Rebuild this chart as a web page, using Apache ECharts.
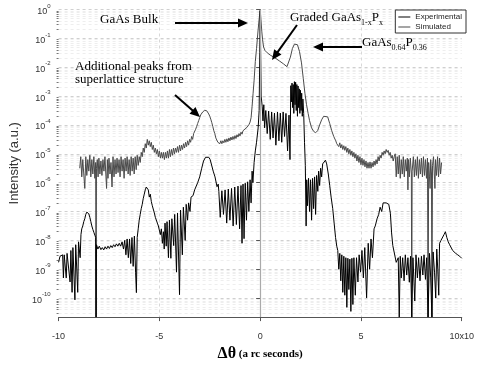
<!DOCTYPE html>
<html>
<head>
<meta charset="utf-8">
<script src="https://cdn.jsdelivr.net/npm/echarts@6/dist/echarts.min.js"></script>
<style>
html, body { margin: 0; padding: 0; background: #fff; }
#main { width: 477px; height: 367px; }
</style>
</head>
<body>
<div id="main"></div>
<script>
// x: delta theta (x10^3 arc seconds), second value: log10 of intensity
var simulated = [
    [-8.95,-5.5],[-8.9,-5.1],[-8.85,-5.8],[-8.8,-5.2],[-8.75,-5.7],[-8.7,-6.2],[-8.65,-5.1],[-8.6,-5.75],[-8.55,-5.2],[-8.5,-5.6],
    [-8.45,-5.05],[-8.4,-5.8],[-8.35,-5.2],[-8.3,-5.7],[-8.25,-5.1],[-8.2,-5.85],[-8.16,-5.3],[-8.14,-10.66],[-8.12,-5.5],[-8.08,-5.2],
    [-8.04,-5.8],[-8.0,-5.15],[-7.95,-5.7],[-7.9,-5.25],[-7.85,-5.75],[-7.8,-5.2],[-7.75,-5.6],[-7.7,-5.1],[-7.65,-5.8],[-7.62,-6.2],
    [-7.58,-5.2],[-7.55,-5.85],[-7.5,-5.15],[-7.45,-5.7],[-7.4,-5.3],[-7.35,-6.15],[-7.3,-5.1],[-7.25,-5.8],[-7.2,-5.2],[-7.15,-5.7],
    [-7.1,-5.15],[-7.05,-5.65],[-7.0,-5.2],[-6.95,-5.8],[-6.9,-5.1],[-6.85,-5.6],[-6.8,-5.2],[-6.75,-5.85],[-6.7,-5.15],[-6.65,-5.6],
    [-6.6,-5.1],[-6.55,-5.7],[-6.5,-5.2],[-6.45,-5.75],[-6.4,-5.1],[-6.35,-5.6],[-6.3,-5.15],[-6.25,-5.7],[-6.2,-5.1],[-6.15,-5.55],
    [-6.1,-5.05],[-6.05,-5.4],
    [-6.0,-5.1],[-5.95,-5.3],[-5.9,-4.95],[-5.85,-5.1],[-5.8,-4.8],[-5.75,-4.95],[-5.7,-4.65],[-5.65,-4.8],[-5.6,-4.5],[-5.55,-4.7],
    [-5.5,-4.55],[-5.45,-4.75],[-5.4,-4.6],[-5.35,-4.85],[-5.3,-4.7],[-5.25,-4.95],[-5.2,-4.8],[-5.15,-5.0],[-5.1,-4.85],[-5.05,-5.1],
    [-5.0,-4.9],[-4.95,-5.15],[-4.9,-4.95],[-4.85,-5.15],[-4.8,-4.95],[-4.75,-5.2],[-4.7,-4.95],[-4.65,-5.15],[-4.6,-4.9],[-4.55,-5.15],
    [-4.5,-4.85],[-4.45,-5.1],[-4.4,-4.85],[-4.35,-5.05],[-4.3,-4.8],[-4.25,-5.0],[-4.2,-4.8],[-4.15,-4.95],[-4.1,-4.75],[-4.05,-4.95],
    [-4.0,-4.7],[-3.95,-4.9],[-3.9,-4.7],[-3.85,-4.85],[-3.8,-4.65],[-3.75,-4.8],[-3.7,-4.6],[-3.65,-4.75],[-3.6,-4.55],[-3.55,-4.7],
    [-3.5,-4.5],[-3.45,-4.6],[-3.4,-4.4],[-3.35,-4.5],[-3.3,-4.3],[-3.25,-4.35],[-3.2,-4.15],[-3.15,-4.05],[-3.1,-3.95],[-3.05,-3.85],
    [-3.0,-3.75],[-2.95,-3.65],[-2.9,-3.6],[-2.85,-3.55],[-2.8,-3.52],[-2.75,-3.49],[-2.7,-3.49],[-2.65,-3.51],[-2.6,-3.55],[-2.55,-3.62],
    [-2.5,-3.7],[-2.45,-3.8],[-2.4,-3.92],[-2.35,-4.05],[-2.3,-4.2],[-2.25,-4.3],[-2.2,-4.45],[-2.15,-4.5],[-2.1,-4.6],[-2.05,-4.55],
    [-2.0,-4.65],[-1.95,-4.55],[-1.9,-4.65],[-1.85,-4.55],[-1.8,-4.62],[-1.75,-4.5],[-1.7,-4.6],[-1.65,-4.48],[-1.6,-4.58],[-1.55,-4.45],
    [-1.5,-4.55],[-1.45,-4.42],[-1.4,-4.52],[-1.35,-4.4],[-1.3,-4.5],[-1.25,-4.37],[-1.2,-4.47],[-1.15,-4.34],[-1.1,-4.42],[-1.05,-4.3],
    [-1.0,-4.38],[-0.95,-4.25],[-0.9,-4.32],[-0.85,-4.2],[-0.8,-4.26],[-0.75,-4.14],[-0.7,-4.18],[-0.65,-4.08],[-0.6,-4.1],[-0.55,-3.98],
    [-0.5,-3.9],[-0.45,-3.75],[-0.4,-3.35],[-0.35,-2.9],[-0.3,-2.45],[-0.24,-1.8],[-0.18,-1.35],[-0.12,-0.85],[-0.06,-0.4],[0,0],
    [0.04,-0.35],[0.08,-0.75],[0.12,-1.05],[0.17,-1.3],[0.24,-1.42],[0.35,-1.5],[0.5,-1.58],[0.7,-1.66],[0.95,-1.78],[1.15,-1.88],
    [1.33,-1.98],[1.42,-1.92],[1.5,-1.65],[1.6,-1.35],[1.7,-1.2],[1.76,-1.17],[1.85,-1.22],[1.95,-1.45],[2.05,-1.85],[2.14,-2.4],
    [2.22,-2.9],[2.3,-3.3],[2.38,-3.6],[2.45,-3.85],[2.55,-4.1],[2.65,-4.22],[2.75,-4.27],[2.85,-4.2],[2.95,-4.0],[3.05,-3.82],
    [3.15,-3.7],[3.24,-3.66],[3.35,-3.72],[3.45,-3.95],[3.55,-4.2],[3.65,-4.4],[3.75,-4.55],[3.8,-4.65],
    [3.85,-4.6],[3.9,-4.75],[3.95,-4.62],[4.0,-4.8],[4.05,-4.68],[4.1,-4.85],[4.15,-4.72],[4.2,-4.88],[4.25,-4.75],[4.3,-4.95],
    [4.35,-4.8],[4.4,-5.0],[4.45,-4.85],[4.5,-5.05],[4.55,-4.9],[4.6,-5.1],[4.65,-4.95],[4.7,-5.15],[4.75,-5.0],[4.8,-5.25],
    [4.85,-5.05],[4.9,-5.3],[4.95,-5.1],[5.0,-5.38],[5.05,-5.15],[5.1,-5.4],[5.15,-5.2],[5.2,-5.45],[5.25,-5.25],[5.3,-5.5],
    [5.35,-5.3],[5.4,-5.5],[5.45,-5.28],[5.5,-5.5],[5.55,-5.3],[5.6,-5.45],[5.65,-5.25],[5.7,-5.4],[5.75,-5.2],[5.8,-5.35],
    [5.85,-5.1],[5.9,-5.25],[5.95,-5.05],[6.0,-5.15],[6.05,-4.95],[6.1,-5.05],[6.15,-4.9],[6.2,-5.0],[6.25,-4.85],[6.3,-4.95],
    [6.35,-4.88],[6.4,-5.05],[6.45,-4.95],[6.5,-5.15],[6.55,-5.05],[6.6,-5.25],[6.65,-5.1],
    [6.7,-5.0],[6.75,-5.8],[6.8,-5.1],[6.85,-5.7],[6.9,-5.05],[6.95,-5.85],[7.0,-5.2],[7.05,-5.7],[7.1,-5.1],[7.15,-5.8],
    [7.2,-5.2],[7.25,-5.6],[7.3,-5.15],[7.33,-6.25],[7.36,-5.2],[7.4,-5.8],[7.45,-5.15],[7.5,-5.7],[7.52,-10.66],[7.54,-5.6],
    [7.6,-5.1],[7.65,-5.8],[7.7,-5.2],[7.75,-5.75],[7.8,-5.1],[7.85,-5.85],[7.9,-5.2],[7.95,-5.7],[8.0,-5.15],[8.05,-5.8],
    [8.1,-5.1],[8.15,-5.75],[8.2,-5.2],[8.25,-5.85],[8.3,-5.15],[8.33,-10.66],[8.36,-5.3],[8.4,-5.8],[8.43,-6.2],[8.46,-5.2],
    [8.5,-5.7],[8.52,-10.66],[8.55,-5.4],[8.6,-5.1],[8.65,-5.9],[8.67,-6.2],[8.7,-5.2],[8.75,-5.75],[8.8,-5.1],[8.85,-5.8],
    [8.9,-5.15],[8.95,-5.7],[9.0,-5.3]
];

var experimental = [
    [-10,-8.76],[-9.93,-8.55],[-9.86,-8.6],[-9.8,-8.5],[-9.76,-9.3],[-9.72,-8.5],[-9.66,-8.45],[-9.62,-9.3],[-9.58,-8.45],[-9.5,-8.4],
    [-9.43,-9.44],[-9.39,-8.35],[-9.36,-8.3],[-9.33,-9.8],[-9.29,-8.25],[-9.24,-8.2],[-9.19,-10.06],[-9.15,-8.15],[-9.1,-8.1],[-9.05,-9.8],
    [-9.01,-8.05],[-8.97,-8.0],[-8.93,-8.6],[-8.89,-7.8],[-8.85,-7.6],[-8.8,-7.5],[-8.75,-7.35],[-8.7,-7.25],[-8.65,-7.1],[-8.6,-7.02],
    [-8.55,-7.0],[-8.5,-7.08],[-8.45,-7.2],[-8.4,-7.35],[-8.35,-7.5],[-8.3,-7.62],[-8.25,-7.72],[-8.2,-7.82],[-8.16,-7.9],[-8.14,-10.66],
    [-8.12,-8.15],[-8.05,-8.3],[-7.98,-8.2],[-7.9,-8.32],[-7.83,-8.25],[-7.76,-8.33],[-7.69,-8.22],[-7.62,-8.3],[-7.55,-8.2],[-7.48,-8.28],
    [-7.41,-8.18],[-7.34,-8.25],[-7.27,-8.15],[-7.2,-8.22],[-7.13,-8.12],[-7.06,-8.2],[-6.99,-8.1],[-6.92,-8.2],[-6.85,-8.05],[-6.78,-8.3],
    [-6.72,-8.0],[-6.66,-8.5],[-6.6,-7.95],[-6.54,-8.6],[-6.48,-7.95],[-6.42,-8.8],[-6.36,-7.9],[-6.3,-8.9],[-6.24,-7.85],[-6.18,-9.1],
    [-6.14,-9.81],[-6.1,-7.9],[-6.05,-7.6],[-6.0,-7.3],[-5.95,-7.1],[-5.9,-6.9],[-5.85,-6.75],[-5.8,-6.55],[-5.75,-6.4],[-5.7,-6.25],
    [-5.65,-6.15],[-5.6,-6.2],[-5.55,-6.25],[-5.5,-6.5],[-5.45,-6.4],[-5.4,-6.65],[-5.35,-6.8],[-5.3,-6.75],[-5.25,-7.05],[-5.2,-7.2],
    [-5.15,-7.15],[-5.1,-7.4],[-5.05,-7.5],[-5.0,-7.45],[-4.95,-7.8],[-4.9,-7.6],[-4.85,-8.1],[-4.8,-7.7],[-4.76,-8.3],[-4.72,-7.4],
    [-4.66,-8.2],[-4.62,-7.35],[-4.55,-8.6],[-4.5,-7.3],[-4.43,-8.62],[-4.38,-7.25],[-4.29,-8.18],[-4.24,-7.1],[-4.15,-9.1],[-4.1,-7.05],
    [-4.0,-9.88],[-3.95,-6.95],[-3.86,-8.5],[-3.81,-6.85],[-3.72,-8.0],[-3.67,-6.75],[-3.6,-7.3],[-3.55,-6.7],[-3.48,-7.0],[-3.43,-6.5],
    [-3.38,-6.55],[-3.33,-6.45],[-3.25,-6.25],[-3.19,-6.3],[-3.1,-6.0],[-3.0,-5.8],[-2.9,-5.5],[-2.81,-5.25],[-2.71,-5.12],[-2.62,-5.17],
    [-2.55,-5.12],[-2.48,-5.2],[-2.4,-5.25],[-2.33,-5.6],[-2.24,-5.8],[-2.19,-5.75],[-2.14,-6.14],[-2.08,-6.05],[-2.05,-6.3],[-1.98,-7.2],
    [-1.9,-6.28],[-1.82,-7.1],[-1.74,-6.25],[-1.66,-7.4],[-1.58,-6.22],[-1.5,-7.3],[-1.42,-6.2],[-1.34,-7.5],[-1.26,-6.15],[-1.18,-7.45],
    [-1.1,-6.12],[-1.02,-7.6],[-0.95,-6.1],[-0.9,-8.1],[-0.85,-6.05],[-0.8,-7.94],[-0.74,-6.02],[-0.68,-7.3],[-0.62,-5.97],[-0.56,-7.0],
    [-0.5,-5.9],[-0.45,-6.7],[-0.4,-5.6],[-0.36,-6.0],[-0.3,-5.3],[-0.24,-4.9],[-0.18,-4.6],[-0.1,-4.1],[-0.05,-3.5],[-0.02,-1.5],
    [0,-0.05],[0.02,-1.2],[0.05,-3.0],[0.1,-3.35],[0.14,-3.86],[0.18,-3.3],[0.22,-4.1],[0.28,-3.5],[0.35,-4.3],[0.42,-3.52],
    [0.5,-4.5],[0.57,-3.55],[0.64,-4.45],[0.71,-3.59],[0.78,-4.7],[0.86,-3.55],[0.93,-4.55],[1.0,-3.59],[1.07,-4.6],[1.14,-3.55],
    [1.21,-4.4],[1.28,-3.6],[1.36,-4.9],[1.43,-3.66],[1.48,-5.2],[1.52,-2.64],[1.55,-3.2],[1.58,-2.55],[1.61,-3.4],[1.64,-2.6],
    [1.67,-3.6],[1.7,-2.5],[1.73,-3.3],[1.76,-2.52],[1.79,-3.5],[1.82,-2.6],[1.85,-3.7],[1.88,-2.65],[1.91,-3.4],[1.94,-2.75],
    [1.97,-3.6],[2.0,-2.8],[2.03,-3.5],[2.06,-2.9],[2.09,-3.7],[2.12,-3.1],[2.16,-3.6],[2.2,-4.6],[2.24,-5.4],[2.28,-7.5],
    [2.31,-5.9],[2.35,-6.8],[2.4,-5.85],[2.45,-7.0],[2.5,-5.9],[2.55,-7.3],[2.6,-5.85],[2.65,-6.9],[2.7,-5.8],[2.75,-7.1],
    [2.8,-5.75],[2.86,-6.3],[2.9,-5.6],[2.95,-6.1],[3.0,-5.5],[3.05,-5.8],[3.1,-5.35],[3.17,-5.3],[3.24,-5.22],[3.3,-5.35],
    [3.38,-5.7],[3.45,-6.1],[3.52,-6.5],[3.6,-6.9],[3.67,-7.4],[3.74,-7.9],[3.8,-8.2],[3.85,-8.35],[3.9,-9.0],[3.95,-8.45],
    [4.0,-9.4],[4.05,-8.5],[4.1,-9.8],[4.15,-8.55],[4.2,-9.9],[4.25,-8.6],[4.3,-10.32],[4.35,-8.62],[4.4,-9.7],[4.45,-8.65],
    [4.5,-10.46],[4.55,-8.62],[4.6,-10.22],[4.65,-8.6],[4.72,-9.9],[4.78,-8.6],[4.85,-9.44],[4.91,-8.5],[4.98,-9.1],[5.05,-8.35],
    [5.12,-9.3],[5.19,-8.25],[5.28,-9.99],[5.36,-8.1],[5.43,-9.0],[5.5,-7.95],[5.57,-8.6],[5.65,-7.6],[5.71,-7.5],[5.8,-7.25],
    [5.88,-7.1],[5.95,-6.85],[6.03,-7.0],[6.1,-6.7],[6.19,-6.65],[6.25,-6.7],[6.3,-6.65],[6.38,-6.75],[6.46,-7.06],[6.52,-7.74],
    [6.58,-8.18],[6.67,-8.2],[6.75,-8.76],[6.85,-8.6],[6.9,-10.66],[6.95,-8.55],[7.0,-9.3],[7.07,-8.6],[7.14,-9.4],[7.2,-8.5],
    [7.27,-9.2],[7.33,-8.6],[7.4,-9.45],[7.46,-8.55],[7.52,-10.66],[7.58,-8.6],[7.67,-10.1],[7.73,-8.5],[7.8,-9.3],[7.86,-8.6],
    [7.93,-9.4],[8.0,-8.55],[8.07,-9.2],[8.13,-8.5],[8.2,-9.35],[8.26,-8.6],[8.33,-10.66],[8.4,-8.45],[8.46,-9.3],[8.52,-10.66],
    [8.58,-8.4],[8.65,-9.1],[8.71,-10.0],[8.76,-8.3],[8.81,-9.0],[8.86,-9.9],[8.9,-8.1],[8.97,-8.0],[9.05,-7.95],[9.12,-7.8],
    [9.19,-7.7],[9.26,-7.9],[9.33,-8.05],[9.4,-8.15],[9.48,-8.2],[9.55,-8.35],[9.62,-8.4],[9.7,-8.45],[9.8,-8.5],[9.9,-8.55],
    [10,-8.62]
];

var seriesNames = ['Experimental', 'Simulated'];
var yTickExponents = [-10, -9, -8, -7, -6, -5, -4, -3, -2, -1, 0];
var yMinorMultiples = [2, 3, 4, 5, 6, 7, 8, 9];
var yMin = 2.2e-11;

var yMajorValues = yTickExponents.map(function (e) { return Math.pow(10, e); });
var yMinorValues = [];
[-11].concat(yTickExponents).forEach(function (e) {
    yMinorMultiples.forEach(function (m) {
        var v = m * Math.pow(10, e);
        if (v > yMin && v < 1) yMinorValues.push(v);
    });
});

function toPoints(arr) {
    return arr.map(function (p) { return [p[0], Math.pow(10, p[1])]; });
}

var serif = '"Liberation Serif", "Times New Roman", serif';
var sans = '"Liberation Sans", Arial, sans-serif';

// arrow = thin filled shaft + head, both polygons
function arrow(x1, y1, x2, y2) {
    var dx = x2 - x1, dy = y2 - y1;
    var len = Math.sqrt(dx * dx + dy * dy);
    var ux = dx / len, uy = dy / len;
    var bx = x2 - ux * 10, by = y2 - uy * 10;
    var px = -uy, py = ux;
    return [
        {type: 'polygon', shape: {points: [
            [x1 + px, y1 + py], [bx + ux + px, by + uy + py], [bx + ux - px, by + uy - py], [x1 - px, y1 - py]
        ]}, style: {fill: '#000'}, z: 100},
        {type: 'polygon', shape: {points: [[x2, y2], [bx + px * 4.5, by + py * 4.5], [bx - px * 4.5, by - py * 4.5]]},
            style: {fill: '#000'}, z: 100}
    ];
}

var subRich = {
    a: {fontSize: 13, fontFamily: serif, lineHeight: 16, verticalAlign: 'top', color: '#000'},
    s: {fontSize: 8, fontFamily: serif, lineHeight: 7, verticalAlign: 'bottom', color: '#000'}
};

var graphics = [
    {type: 'text', x: 100, y: 20, z: 100, style: {text: 'GaAs Bulk', font: '13px ' + serif, fill: '#000', verticalAlign: 'middle'}},
    {type: 'text', x: 290, y: 19, z: 100, style: {text: '{a|Graded GaAs}{s|1-x}{a|P}{s|x}', rich: subRich, verticalAlign: 'middle'}},
    {type: 'text', x: 362, y: 44, z: 100, style: {text: '{a|GaAs}{s|0.64}{a|P}{s|0.36}', rich: subRich, verticalAlign: 'middle'}},
    {type: 'text', x: 75, y: 67, z: 100, style: {text: 'Additional peaks from', font: '13px ' + serif, fill: '#000', verticalAlign: 'middle'}},
    {type: 'text', x: 75, y: 80, z: 100, style: {text: 'superlattice structure', font: '13px ' + serif, fill: '#000', verticalAlign: 'middle'}}
].concat(arrow(175, 23, 248, 23), arrow(297, 25, 272, 60), arrow(362, 47, 313, 47), arrow(175, 95, 200, 117));

var myChart = echarts.init(document.getElementById('main'));
var option = {
    animation: false,
    backgroundColor: '#fff',
    grid: {left: 49, right: 7, top: 9.5, bottom: 44},
    legend: {
        data: seriesNames,
        orient: 'vertical',
        right: 11,
        top: 10,
        itemGap: 2,
        itemWidth: 12,
        itemHeight: 1,
        icon: 'rect',
        padding: [3, 4, 2, 3],
        borderColor: '#333',
        borderWidth: 1,
        borderRadius: 0,
        backgroundColor: '#fff',
        textStyle: {fontSize: 8, fontFamily: sans, color: '#222'}
    },
    xAxis: {
        type: 'value',
        min: -10,
        max: 10,
        interval: 5,
        name: '{d|Δθ}{t| (a rc seconds)}',
        nameLocation: 'middle',
        nameGap: 28,
        nameTextStyle: {
            rich: {
                d: {fontSize: 16, fontWeight: 'bold', fontFamily: serif, color: '#000'},
                t: {fontSize: 11, fontWeight: 'bold', fontFamily: serif, color: '#000'}
            }
        },
        axisLine: {lineStyle: {color: '#555', width: 1}},
        axisTick: {show: true, length: 4, lineStyle: {color: '#555'}},
        axisLabel: {
            fontSize: 9,
            fontFamily: sans,
            color: '#333',
            margin: 15,
            formatter: function (v) { return v === 10 ? '10x10' : String(v); }
        },
        splitLine: {
            show: true,
            lineStyle: {color: ['rgba(0,0,0,0)', '#d8d8d8', 'rgba(0,0,0,0)', '#d8d8d8', 'rgba(0,0,0,0)'], type: [3, 3], width: 1}
        }
    },
    yAxis: [
        {
            type: 'log',
            logBase: 10,
            min: yMin,
            max: 1,
            name: 'Intensity (a.u.)',
            nameLocation: 'middle',
            nameGap: 27,
            nameTextStyle: {fontSize: 13, fontFamily: sans, color: '#333'},
            axisLine: {show: true, lineStyle: {color: '#555', width: 1}},
            axisTick: {show: true, length: 4, customValues: yMajorValues, lineStyle: {color: '#555'}},
            axisLabel: {
                customValues: yMajorValues,
                margin: 8,
                formatter: function (v) {
                    var e = Math.round(Math.log(v) / Math.LN10);
                    return '{b|10}{s|' + e + '}';
                },
                rich: {
                    b: {fontSize: 9, fontFamily: sans, color: '#333', lineHeight: 13, verticalAlign: 'bottom'},
                    s: {fontSize: 6, fontFamily: sans, color: '#333', lineHeight: 6, verticalAlign: 'top'}
                }
            },
            splitLine: {show: true, lineStyle: {color: '#d0d0d0', type: [3, 3], width: 1}}
        },
        {
            type: 'log',
            logBase: 10,
            min: yMin,
            max: 1,
            position: 'left',
            axisLine: {show: false},
            axisTick: {show: true, length: 2, customValues: yMinorValues, lineStyle: {color: '#777'}},
            axisLabel: {show: false, customValues: yMinorValues},
            splitLine: {show: true, lineStyle: {color: '#eeeeee', type: [3, 3], width: 1}}
        }
    ],
    series: [
        {
            name: 'Simulated',
            type: 'line',
            yAxisIndex: 0,
            data: toPoints(simulated),
            showSymbol: false,
            symbol: 'none',
            clip: true,
            color: '#4a4a4a',
            lineStyle: {color: '#4a4a4a', width: 1},
            markLine: {
                silent: true,
                symbol: 'none',
                label: {show: false},
                lineStyle: {color: '#aaa', type: 'solid', width: 1.2},
                data: [{xAxis: 0}]
            },
            z: 2
        },
        {
            name: 'Experimental',
            type: 'line',
            yAxisIndex: 0,
            data: toPoints(experimental),
            showSymbol: false,
            symbol: 'none',
            clip: true,
            color: '#000',
            lineStyle: {color: '#000', width: 1},
            z: 3
        }
    ],
    graphic: graphics
};
myChart.setOption(option);
</script>
</body>
</html>
